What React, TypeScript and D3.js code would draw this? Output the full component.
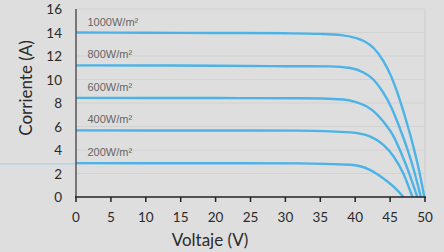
import { useEffect, useRef } from 'react'
import * as d3 from 'd3'

type Pt = [number, number]

const irradiance = ['1000W/m²', '800W/m²', '600W/m²', '400W/m²', '200W/m²']

// Voltage (V), current (A)
const curve1000: Pt[] = [[0, 14.0], [10, 13.98], [20, 13.96], [30, 13.93], [35, 13.88], [38, 13.78], [40, 13.55], [41.3, 13.25], [42.6, 12.7], [44, 11.6], [45.2, 10.2], [46.2, 8.6], [47.2, 6.7], [48.2, 4.6], [49.1, 2.4], [49.9, 0]]
const curve800: Pt[] = [[0, 11.2], [20, 11.17], [30, 11.13], [36.4, 11.12], [39.3, 10.98], [41.2, 10.6], [42.6, 10.0], [44, 8.9], [45.2, 7.6], [46.3, 6.0], [47.4, 4.2], [48.4, 2.3], [49.4, 0]]
const curve600: Pt[] = [[0, 8.44], [20, 8.42], [32, 8.4], [38.3, 8.3], [40, 8.1], [41.6, 7.72], [43, 7.1], [44, 6.44], [45.5, 5.16], [46.4, 4.0], [47.3, 2.7], [48.1, 1.4], [48.9, 0]]
const curve400: Pt[] = [[0, 5.67], [20, 5.66], [32, 5.65], [39.3, 5.5], [42.1, 5.16], [44, 4.45], [45.5, 3.45], [46.9, 2.0], [48.2, 0]]
const curve200: Pt[] = [[0, 2.88], [20, 2.87], [32, 2.86], [39.3, 2.74], [42.1, 2.31], [44, 1.6], [45.5, 0.88], [46.9, 0]]

const curves = [curve1000, curve800, curve600, curve400, curve200]
const xTicks = [0, 5, 10, 15, 20, 25, 30, 35, 40, 45, 50]
const yTicks = [0, 2, 4, 6, 8, 10, 12, 14, 16]

const W = 444
const H = 252
const FONT = 'Lato, "Open Sans", sans-serif'

export default function App() {
  const ref = useRef<SVGSVGElement>(null)

  useEffect(() => {
    if (!ref.current) return
    const svg = d3.select(ref.current)
    svg.selectAll('*').remove()

    const x = d3.scaleLinear().domain([0, 50]).range([76, 425])
    const y = d3.scaleLinear().domain([0, 16]).range([197, 9])

    svg.append('rect').attr('width', W).attr('height', H).attr('fill', '#dedede')

    // gridlines
    svg.append('g').selectAll('line').data(yTicks.filter(d => d > 0)).enter().append('line')
      .attr('x1', x(0)).attr('x2', x(50)).attr('y1', d => y(d)).attr('y2', d => y(d))
      .attr('stroke', '#d2d2d2').attr('stroke-width', 1.2)
    svg.append('line')
      .attr('x1', x(50)).attr('x2', x(50)).attr('y1', y(16)).attr('y2', y(0))
      .attr('stroke', '#d2d2d2').attr('stroke-width', 1.5)

    // stray line at the left
    svg.append('line')
      .attr('x1', 0).attr('x2', x(0)).attr('y1', y(2.82)).attr('y2', y(2.82))
      .attr('stroke', '#9fd0ee').attr('stroke-width', 1)

    const line = d3.line<Pt>().x(d => x(d[0])).y(d => y(d[1])).curve(d3.curveMonotoneX)
    svg.append('g').selectAll('path').data(curves).enter().append('path')
      .attr('d', d => line(d))
      .attr('fill', 'none')
      .attr('stroke', '#4cb3e8')
      .attr('stroke-width', 2.4)

    svg.append('g').selectAll('text').data(irradiance).enter().append('text')
      .attr('x', 87.5)
      .attr('y', (_, i) => y(curves[i][0][1]) - 7)
      .attr('font-family', '"Liberation Sans", Arial, sans-serif')
      .attr('font-size', 11)
      .attr('fill', '#666')
      .text(d => d)

    // axes
    svg.append('line')
      .attr('x1', x(0)).attr('x2', x(0)).attr('y1', y(16)).attr('y2', y(0))
      .attr('stroke', '#555').attr('stroke-width', 1.5)
    svg.append('line')
      .attr('x1', x(0) - 1).attr('x2', x(50) + 1).attr('y1', y(0)).attr('y2', y(0))
      .attr('stroke', '#222').attr('stroke-width', 1.5)
    svg.append('g').selectAll('line').data(xTicks).enter().append('line')
      .attr('x1', d => x(d)).attr('x2', d => x(d)).attr('y1', y(0)).attr('y2', y(0) + 5)
      .attr('stroke', '#222').attr('stroke-width', 1.5)

    svg.append('g').selectAll('text').data(xTicks).enter().append('text')
      .attr('x', d => x(d)).attr('y', 221.5)
      .attr('text-anchor', 'middle')
      .attr('font-family', FONT).attr('font-size', 13.5).attr('fill', '#2a2a2a')
      .text(d => d)
    svg.append('g').selectAll('text').data(yTicks).enter().append('text')
      .attr('x', 62).attr('y', d => y(d) + 5)
      .attr('text-anchor', 'end')
      .attr('font-family', FONT).attr('font-size', 13.5).attr('fill', '#2a2a2a')
      .text(d => d)

    svg.append('text')
      .attr('x', 210).attr('y', 246)
      .attr('text-anchor', 'middle')
      .attr('font-family', FONT).attr('font-size', 17).attr('fill', '#2a2a2a')
      .text('Voltaje (V)')
    svg.append('text')
      .attr('transform', 'translate(32,88) rotate(-90)')
      .attr('text-anchor', 'middle')
      .attr('font-family', FONT).attr('font-size', 17).attr('fill', '#2a2a2a')
      .text('Corriente (A)')
  }, [])

  return <svg ref={ref} width={W} height={H} style={{ position: 'absolute', left: 0, top: 0 }} />
}
